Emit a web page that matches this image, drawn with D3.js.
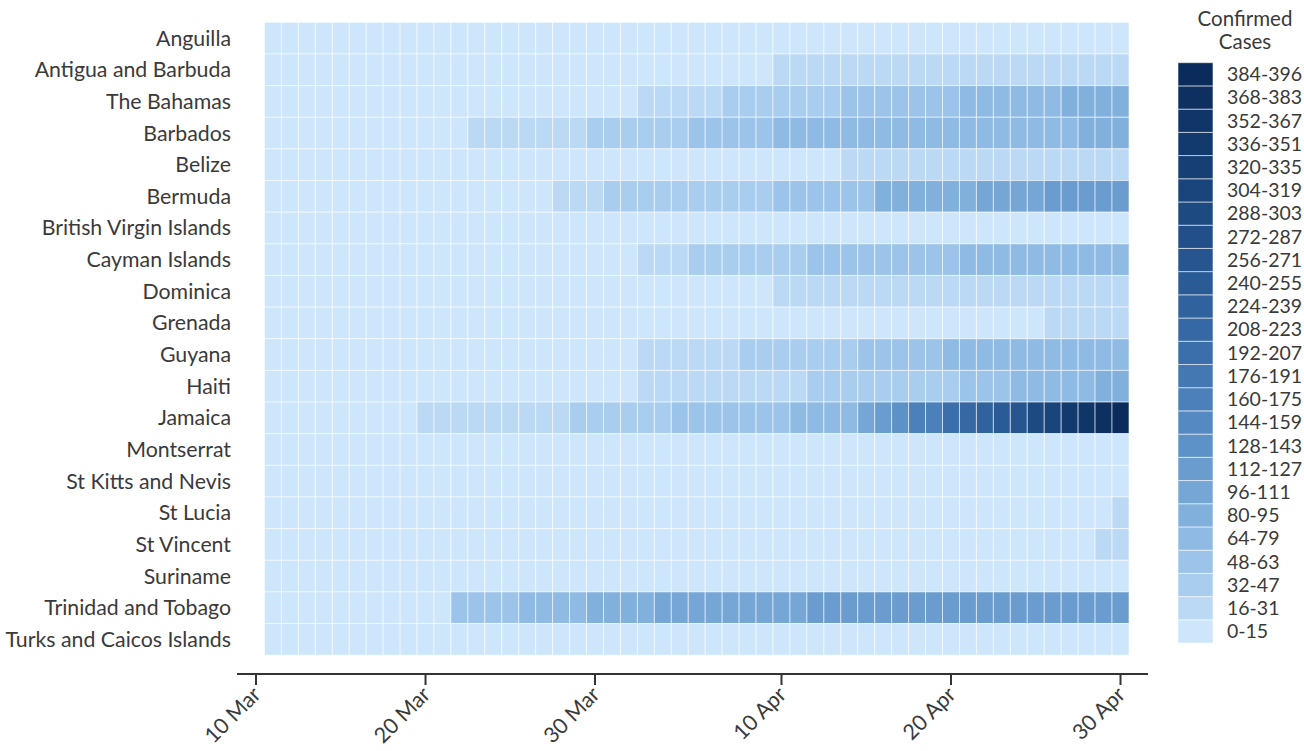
<!DOCTYPE html>
<html>
<head>
<meta charset="utf-8">
<script src="https://cdn.jsdelivr.net/npm/d3@7"></script>
<style>
  html, body { margin: 0; padding: 0; background: #fff; }
  svg { display: block; }
  text { font-family: Lato, "Open Sans", sans-serif; fill: #3a3a3a; }
</style>
</head>
<body>
<svg id="chart" width="1304" height="751"></svg>
<script>
// ---------- data ----------
const countries = ["Anguilla","Antigua and Barbuda","The Bahamas","Barbados","Belize","Bermuda",
  "British Virgin Islands","Cayman Islands","Dominica","Grenada","Guyana","Haiti","Jamaica",
  "Montserrat","St Kitts and Nevis","St Lucia","St Vincent","Suriname","Trinidad and Tobago",
  "Turks and Caicos Islands"];

const firstDay = "2020-03-11";   // one value per day, 11 Mar .. 30 Apr

const anguilla = [0,0,0,0,0,0,0,0,0,0, 0,0,0,0,0,2,2,2,2,2, 2,2,3,3,3,3,3,3,3,3, 3,3,3,3,3,3,3,3,3,3, 3,3,3,3,3,3,3,3,3,3, 3];
const antigua = [0,0,1,1,1,1,1,1,1,1, 1,1,3,3,3,3,3,7,7,7, 7,9,9,15,15,15,15,15,15,15, 19,19,21,23,23,23,23,23,23,23, 23,23,24,24,24,24,24,24,24,24, 24];
const bahamas = [0,0,0,0,1,1,1,1,1,3, 3,4,4,5,5,5,9,10,11,14, 14,14,21,24,28,29,29,33,36,40, 41,42,46,47,49,53,54,55,58,60, 60,65,72,73,76,78,78,80,80,81, 83];
const barbados = [0,0,0,0,0,2,5,5,5,5, 14,14,18,18,24,24,26,26,26,33, 33,34,46,46,46,52,56,56,60,63, 66,67,68,71,72,73,75,75,75,75, 75,75,76,77,79,79,79,79,80,81, 82];
const belize = [0,0,0,0,0,0,0,0,0,0, 0,0,1,1,1,2,2,2,2,3, 3,3,3,4,5,7,7,7,8,10, 10,14,14,14,16,18,18,18,18,18, 18,18,18,18,18,18,18,18,18,18, 18];
const bermuda = [0,0,0,0,0,0,0,0,2,2, 2,6,6,6,15,15,15,22,27,27, 32,35,35,37,39,39,39,41,44,47, 48,53,56,57,57,60,81,81,83,83, 86,86,98,99,101,109,112,112,114,114, 114];
const bvi = [0,0,0,0,0,0,0,0,0,0, 0,0,0,0,0,0,2,2,2,2, 2,3,3,3,3,3,3,3,3,3, 3,3,3,3,3,3,3,3,3,3, 5,5,6,6,6,6,6,6,6,6, 6];
const cayman = [0,0,0,1,1,1,1,1,1,1, 3,3,5,5,5,8,8,8,8,8, 12,14,22,28,28,39,45,45,45,45, 45,47,54,54,54,61,61,61,63,63, 63,66,70,70,73,74,74,75,75,79, 79];
const dominica = [0,0,0,0,0,0,0,0,0,0, 0,1,1,1,2,7,11,11,11,11, 12,12,14,14,15,15,15,15,15,15, 16,16,16,16,16,16,16,16,16,16, 16,16,16,16,16,16,16,16,16,16, 16];
const grenada = [0,0,0,0,0,1,1,1,1,1, 1,1,2,7,7,9,9,9,9,9, 9,10,12,12,12,12,12,12,12,12, 12,13,14,14,14,14,14,14,14,14, 15,15,15,15,15,15,18,18,20,20, 20];
const guyana = [0,1,1,1,1,1,1,1,1,2, 4,5,5,5,5,7,8,8,8,12, 12,12,19,20,23,23,24,24,33,33, 37,37,45,45,45,48,48,55,57,63, 65,66,66,70,70,73,74,74,74,76, 79];
const haiti = [0,0,0,0,0,0,0,0,2,2, 2,2,7,7,8,8,8,15,15,15, 15,15,16,16,18,21,24,24,25,30, 30,31,33,33,40,40,40,43,47,47, 47,57,62,62,72,74,76,76,76,81, 85];
const jamaica = [1,2,8,10,12,13,15,15,15,16, 16,19,21,21,26,30,30,30,32,36, 38,44,47,47,53,55,58,59,63,63, 63,65,69,73,73,105,125,143,163,173, 196,223,233,252,257,288,305,350,364,369, 396];
const montserrat = [0,0,0,0,0,0,1,1,1,1, 1,1,2,5,5,5,5,5,6,6, 6,6,6,6,6,8,9,9,9,9, 9,9,9,9,11,11,11,11,11,11, 11,11,11,11,11,11,11,11,11,11, 11];
const stKitts = [0,0,0,0,0,0,0,0,0,0, 0,0,0,2,2,2,2,7,8,8, 9,9,9,9,10,10,10,11,11,11, 12,12,12,12,12,14,14,14,14,14, 15,15,15,15,15,15,15,15,15,15, 15];
const stLucia = [0,0,1,1,1,2,2,2,2,2, 2,3,3,3,3,3,3,9,9,11, 13,13,13,13,13,14,14,14,14,14, 14,15,15,15,15,15,15,15,15,15, 15,15,15,15,15,15,15,15,15,15, 17];
const stVincent = [0,1,1,1,1,1,1,1,1,1, 1,1,1,1,1,1,1,1,1,1, 1,2,3,3,5,7,7,7,7,11, 12,12,12,12,12,12,12,12,12,12, 12,12,12,14,14,14,14,14,15,16, 17];
const suriname = [0,0,0,1,1,1,1,4,4,5, 5,5,8,8,8,8,8,8,8,8, 8,9,10,10,10,10,10,10,10,10, 10,10,10,10,10,10,10,10,10,10, 10,10,10,10,10,10,10,10,10,10, 10];
const trinidad = [2,2,4,5,7,9,9,9,9,9, 9,49,51,57,60,65,66,74,78,82, 85,89,90,98,103,104,105,107,107,109, 109,109,112,113,113,114,114,114,114,114, 114,115,115,115,115,115,116,116,116,116, 116];
const turks = [0,0,0,0,0,0,0,0,0,0, 0,0,0,0,1,1,1,1,1,1, 1,5,5,5,5,5,6,6,8,8, 8,9,10,10,10,11,11,11,11,11, 11,11,11,12,12,12,12,12,12,12, 12];

const series = [anguilla, antigua, bahamas, barbados, belize, bermuda, bvi, cayman, dominica,
  grenada, guyana, haiti, jamaica, montserrat, stKitts, stLucia, stVincent, suriname, trinidad, turks];

const binLabels = ["0-15","16-31","32-47","48-63","64-79","80-95","96-111","112-127","128-143",
  "144-159","160-175","176-191","192-207","208-223","224-239","240-255","256-271","272-287",
  "288-303","304-319","320-335","336-351","352-367","368-383","384-396"];
const binSize = 16;

const tickDates = ["2020-03-10","2020-03-20","2020-03-30","2020-04-10","2020-04-20","2020-04-30"];
const tickLabels = ["10 Mar","20 Mar","30 Mar","10 Apr","20 Apr","30 Apr"];

const legendTitle = ["Confirmed", "Cases"];

// colour stops (bin index -> colour)
const stopBins = [0, 2, 5, 8, 12, 16, 20, 24];
const stopColors = ["#cde6fb", "#a9cdef", "#82b0dd", "#5d92c8", "#3a6fac", "#265590", "#163f75", "#0a2b5b"];

// ---------- chart ----------
const svg = d3.select("#chart");
const parse = d3.utcParse("%Y-%m-%d");
const day0 = parse(firstDay);
const days = anguilla.map((_, i) => d3.utcDay.offset(day0, i));

const x = d3.scaleUtc()
  .domain([parse(tickDates[0]), parse(tickDates[tickDates.length - 1])])
  .range([256, 1120.5]);
const cellW = x(days[1]) - x(days[0]);

const y = d3.scaleBand().domain(countries).range([22.3, 655.2]).padding(0);

const binColor = d3.scaleLinear().domain(stopBins).range(stopColors).interpolate(d3.interpolateLab);
const palette = binLabels.map((_, i) => binColor(i));
const color = v => palette[Math.min(binLabels.length - 1, Math.floor(v / binSize))];

// cells
const rows = svg.append("g").selectAll("g").data(countries).join("g");
rows.selectAll("rect")
  .data((c, ci) => series[ci].map((v, i) => ({ c, v, d: days[i] })))
  .join("rect")
  .attr("x", d => x(d.d) - cellW / 2)
  .attr("y", d => y(d.c))
  .attr("width", cellW)
  .attr("height", y.bandwidth())
  .attr("fill", d => color(d.v))
  .attr("stroke", "#ffffff")
  .attr("stroke-opacity", 0.55)
  .attr("stroke-width", 1);

// country labels
const labelG = svg.append("g");
labelG.selectAll("text").data(countries).join("text")
  .attr("x", 231)
  .attr("y", d => y(d) + y.bandwidth() / 2)
  .attr("dy", "0.35em")
  .attr("text-anchor", "end")
  .style("font-size", "21.3px")
  .text(d => d);

// x axis
const axisG = svg.append("g").attr("transform", "translate(0,674)");
axisG.append("line")
  .attr("x1", 237).attr("x2", 1148)
  .attr("stroke", "#333").attr("stroke-width", 2);
const ticks = axisG.selectAll("g.tick").data(tickDates.map(parse)).join("g")
  .attr("class", "tick")
  .attr("transform", d => `translate(${x(d)},0)`);
ticks.append("line").attr("y1", 0).attr("y2", 11).attr("stroke", "#333").attr("stroke-width", 2);
ticks.append("text")
  .attr("text-anchor", "end")
  .attr("transform", "translate(6,22) rotate(-45)")
  .style("font-size", "21.5px")
  .text((d, i) => tickLabels[i]);

// legend
const legTop = 62.7, legBottom = 643, legX = 1178, legW = 35;
const swH = (legBottom - legTop) / binLabels.length;
const leg = svg.append("g");
const legItems = leg.selectAll("g").data(binLabels).join("g")
  .attr("transform", (d, i) => `translate(0,${legBottom - (i + 1) * swH})`);
legItems.append("rect")
  .attr("x", legX).attr("width", legW).attr("height", swH)
  .attr("fill", (d, i) => palette[i])
  .attr("stroke", "#ffffff").attr("stroke-opacity", 0.55).attr("stroke-width", 1);
legItems.append("text")
  .attr("x", 1227).attr("y", swH / 2).attr("dy", "0.35em")
  .style("font-size", "19.5px")
  .text(d => d);

leg.selectAll("text.title").data(legendTitle).join("text")
  .attr("class", "title")
  .attr("x", 1245).attr("y", (d, i) => 26 + i * 23)
  .attr("text-anchor", "middle")
  .style("font-size", "20.5px")
  .text(d => d);
</script>
</body>
</html>
